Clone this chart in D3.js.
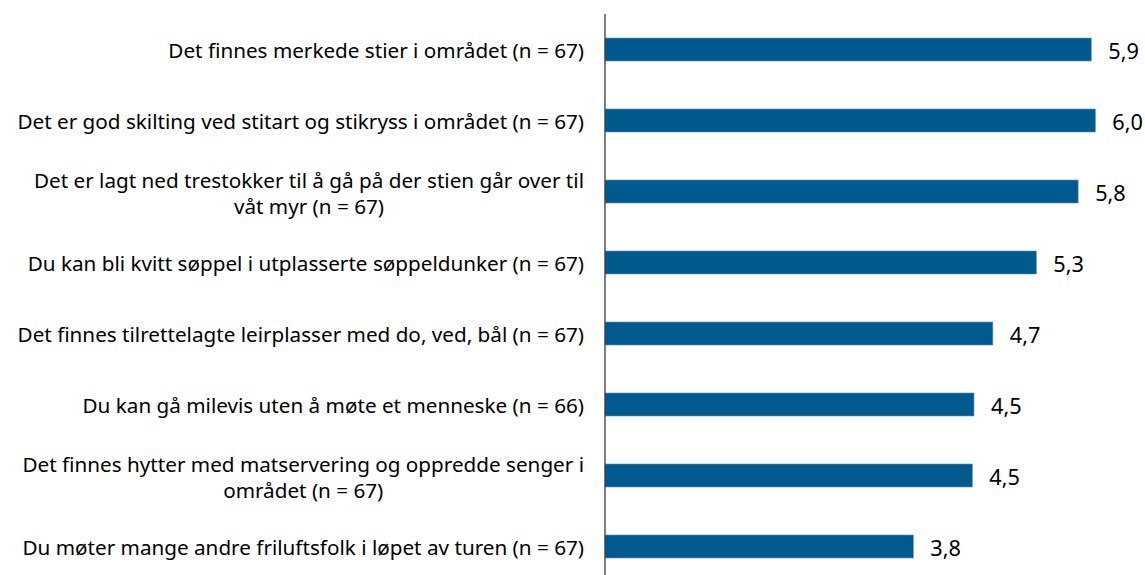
<!DOCTYPE html>
<html>
<head>
<meta charset="utf-8">
<script src="https://cdn.jsdelivr.net/npm/d3@7"></script>
<style>
  html, body { margin: 0; padding: 0; background: #fff; }
  svg { display: block; }
  text { font-family: "Noto Sans", "DejaVu Sans", sans-serif; fill: #000; }
</style>
</head>
<body>
<svg id="chart" width="1145" height="575"></svg>
<script>
// Data
const categories = [
  ["Det finnes merkede stier i området (n = 67)"],
  ["Det er god skilting ved stitart og stikryss i området (n = 67)"],
  ["Det er lagt ned trestokker til å gå på der stien går over til", "våt myr (n = 67)"],
  ["Du kan bli kvitt søppel i utplasserte søppeldunker (n = 67)"],
  ["Det finnes tilrettelagte leirplasser med do, ved, bål (n = 67)"],
  ["Du kan gå milevis uten å møte et menneske (n = 66)"],
  ["Det finnes hytter med matservering og oppredde senger i", "området (n = 67)"],
  ["Du møter mange andre friluftsfolk i løpet av turen (n = 67)"]
];
const values = [5.93, 5.98, 5.77, 5.26, 4.73, 4.50, 4.48, 3.76];
const valueLabels = ["5,9", "6,0", "5,8", "5,3", "4,7", "4,5", "4,5", "3,8"];

(function () {
const svg = d3.select("#chart");
const axisX = 605;
const axisTop = 14, axisBottom = 575;

const x = d3.scaleLinear().domain([0, 7]).range([axisX, axisX + 82 * 7]);
const y = d3.scaleBand().domain(d3.range(categories.length))
  .range([14, 14 + 71 * 8]).paddingInner(0.676).paddingOuter(0.338);

// Bars
svg.selectAll("rect.bar").data(values).enter().append("rect")
  .attr("class", "bar")
  .attr("x", x(0))
  .attr("y", (d, i) => y(i))
  .attr("width", d => x(d) - x(0))
  .attr("height", y.bandwidth())
  .attr("fill", "#005a8e")
  .attr("stroke", "#5f93b8")
  .attr("stroke-width", 0.6);

// Axis line
svg.append("line")
  .attr("x1", axisX).attr("x2", axisX)
  .attr("y1", axisTop).attr("y2", axisBottom)
  .attr("stroke", "#3a3a3a").attr("stroke-width", 1.3);

// Fit font size so longest label matches target width
const probe = svg.append("text").attr("font-size", 17).text(categories[1][0]);
const w17 = probe.node().getComputedTextLength();
probe.remove();
const fs = 17 * 567 / w17;

// Category labels
const labelRight = 584;
const lineH = 26;
categories.forEach((lines, i) => {
  const cy = y(i) + y.bandwidth() / 2 + (lines.length > 1 ? 1 : 0);
  const g = svg.append("g");
  const texts = lines.map((ln, j) => g.append("text")
    .attr("font-size", fs)
    .attr("text-anchor", "middle")
    .attr("dominant-baseline", "central")
    .attr("y", cy + (j - (lines.length - 1) / 2) * lineH)
    .text(ln));
  const maxW = d3.max(texts, t => t.node().getComputedTextLength());
  texts.forEach(t => t.attr("x", labelRight - maxW / 2));
});

// Value labels
svg.selectAll("text.val").data(values).enter().append("text")
  .attr("class", "val")
  .attr("font-size", fs * 1.05)
  .attr("x", d => x(d) + 17)
  .attr("y", (d, i) => y(i) + y.bandwidth() / 2 + 1)
  .attr("dominant-baseline", "central")
  .text((d, i) => valueLabels[i]);
})();
</script>
</body>
</html>
